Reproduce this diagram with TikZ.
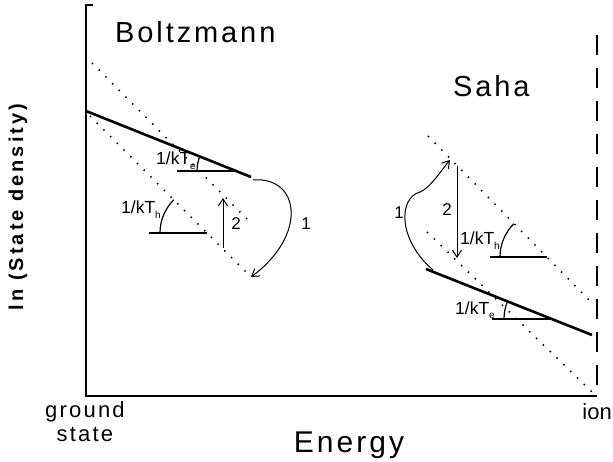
\documentclass[tikz,border=0pt]{standalone}
\usepackage{fontspec}
\setmainfont{Liberation Sans}
\newfontfamily\widefont[LetterSpace=10]{Liberation Sans}
\newfontfamily\axisfont[LetterSpace=15]{Liberation Sans}
\usepackage{tikz}
\usetikzlibrary{positioning, arrows.meta, calc}

\newcommand{\kTsub}[1]{1/kT\raisebox{-0.45ex}{\fontsize{10}{11}\selectfont #1}}

\begin{document}
\begin{tikzpicture}[
            x=1pt, y=-1pt,
            axis/.style={line width=1.8pt},
            level/.style={line width=2.6pt},
            guide/.style={line width=1.6pt, dash pattern=on 1.4pt off 8.1pt},
            baseline/.style={line width=1.2pt},
            trans/.style={line width=1pt, -{Straight Barb[length=7pt, width=9pt, line width=1pt]}},
            title/.style={font=\widefont\fontsize{29}{34}\selectfont, inner sep=0pt},
            axislabel/.style={font=\widefont\fontsize{22}{26}\selectfont, inner sep=0pt},
            slopelabel/.style={font=\fontsize{17.5}{20}\selectfont, inner sep=0pt, anchor=base east},
            num/.style={font=\fontsize{17}{20}\selectfont, inner sep=0pt}
        ]
        \useasboundingbox (0,0) rectangle (613,462);

        % Achsen
        \coordinate (top) at (86,5);
        \coordinate (origin) at (86,396);
        \coordinate (ionbot) at (597,396);
        \coordinate (iontop) at (597,35);
        \draw[axis] ($(top)+(7,0)$) -- (top) -- (origin) -- (ionbot);
        \draw[axis, dash pattern=on 20pt off 13pt] (iontop) -- (ionbot);

        % Beschriftung
        \node[title, anchor=base west] (boltz) at (115,43) {Boltzmann};
        \node[title, anchor=base west] (saha) at (453,97) {Saha};
        \node[title, font=\widefont\fontsize{30}{34}\selectfont, anchor=base] (energy) at (349,452) {Energy};
        \node[axislabel, anchor=base west] (ground) at (45,417) {ground};
        \node[axislabel, below=5pt of ground] (state) {state};
        \node[axislabel, font=\fontsize{22}{26}\selectfont, anchor=base east] (ion) at (612,419) {ion};
        \node[font=\axisfont\bfseries\fontsize{20}{24}\selectfont, inner sep=0pt, rotate=90] (ylabel) at (18,207) {ln (State density)};

        % Boltzmann
        \coordinate (bA) at (86,111);
        \coordinate (bB) at (251,177);
        \coordinate (bU1) at (92,63);
        \coordinate (bU2) at (251,223);
        \coordinate (bL1) at (90,116);
        \coordinate (bL2) at (251,277);
        \draw[level] (bA) -- (bB);
        \draw[guide] (bU1) -- (bU2);
        \draw[guide] (bL1) -- (bL2);

        \coordinate (bTe) at (237,171);
        \coordinate (bTh) at (207,233);
        \draw[baseline] ($(bTe)+(-60,0)$) -- (bTe);
        \draw[baseline] ($(bTe)+(-40,0)$) arc[start angle=180, end angle=202, radius=40];
        \draw[baseline] ($(bTh)+(-58,0)$) -- (bTh);
        \draw[baseline] ($(bTh)+(-47,0)$) arc[start angle=180, end angle=225, radius=47];
        \node[slopelabel] (bTelabel) at (196,165) {\kTsub{e}};
        \node[slopelabel] (bThlabel) at (161,214) {\kTsub{h}};

        \coordinate (b1a) at (253,180);
        \coordinate (b2a) at (223,248);
        \coordinate (b2b) at (223,198);
        \draw[trans] (b1a) .. controls (300,176) and (308,235) .. (bL2);
        \draw[trans] (b2a) -- (b2b);
        \node[num] (b1) at (306,224) {1};
        \node[num] (b2) at (236,224) {2};

        % Saha
        \coordinate (sA) at (426,269);
        \coordinate (sB) at (592,335);
        \coordinate (sU1) at (428,136);
        \coordinate (sU2) at (592,303);
        \coordinate (sL1) at (427,232);
        \coordinate (sL2) at (593,393);
        \draw[level] (sA) -- (sB);
        \draw[guide] (sU1) -- (sU2);
        \draw[guide] (sL1) -- (sL2);

        \coordinate (sTe) at (550,319);
        \coordinate (sTh) at (547,257);
        \draw[baseline] ($(sTe)+(-58,0)$) -- (sTe);
        \draw[baseline] ($(sTe)+(-46,0)$) arc[start angle=180, end angle=202, radius=46];
        \draw[baseline] ($(sTh)+(-57,0)$) -- (sTh);
        \draw[baseline] ($(sTh)+(-47,0)$) arc[start angle=180, end angle=225, radius=47];
        \node[slopelabel] (sTelabel) at (495,314) {\kTsub{e}};
        \node[slopelabel] (sThlabel) at (500,245) {\kTsub{h}};

        \coordinate (s1a) at (433,270);
        \coordinate (s1b) at (450,160);
        \coordinate (s2a) at (457,166);
        \coordinate (s2b) at (457,258);
        \draw[trans] (s1a) .. controls (398,240) and (398,198) .. (420,192) .. controls (430,188) and (440,172) .. (s1b);
        \draw[trans] (s2a) -- (s2b);
        \node[num] (s1) at (399,213) {1};
        \node[num] (s2) at (447,210) {2};

    \end{tikzpicture}
\end{document}
